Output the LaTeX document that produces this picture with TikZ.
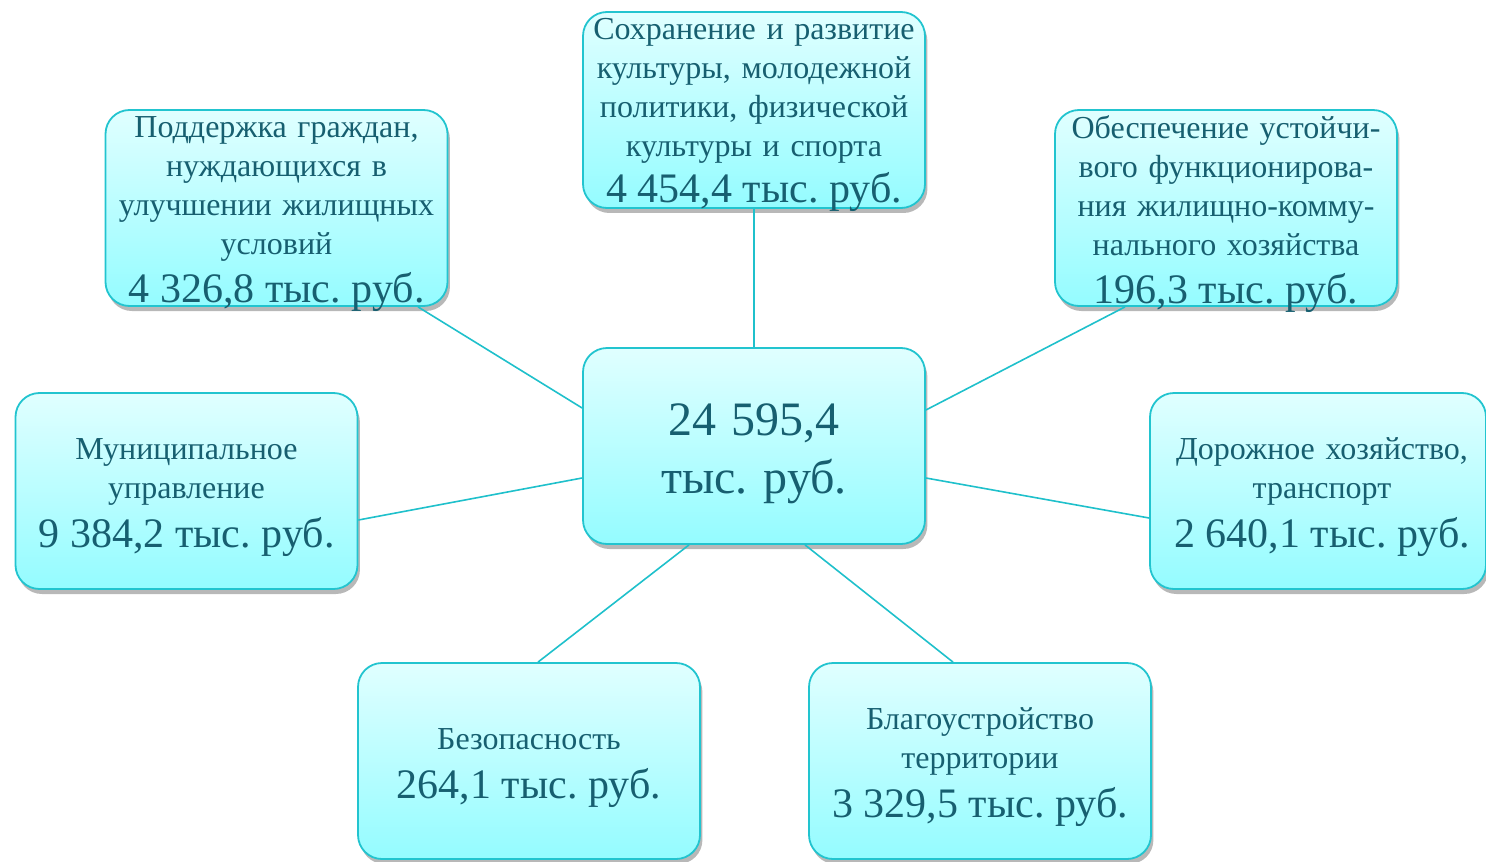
\documentclass[tikz,border=0pt]{standalone}
\usepackage{fontspec}
\setmainfont{Liberation Serif}
\frenchspacing
\usetikzlibrary{shadows,calc}
\definecolor{boxtop}{HTML}{E0FFFF}
\definecolor{boxbot}{HTML}{94FCFF}
\definecolor{boxline}{HTML}{22C4CF}
\definecolor{txt}{HTML}{175F70}
\definecolor{conn}{HTML}{1FC0CB}
\newcommand{\smallf}{\fontsize{16}{19.5}\selectfont}
\newcommand{\bigf}{\fontsize{21}{25}\selectfont}
\newcommand{\upfix}[1]{\rule{0pt}{#1}}
\tikzset{
  boxtext/.style={inner sep=0pt, text width=168pt, align=center, text=txt, font=\smallf},
  box/.style={boxtext, draw=boxline, line width=0.9pt, rounded corners=12pt,
    top color=boxtop, bottom color=boxbot,
    minimum width=171pt, minimum height=98pt,
    drop shadow={shadow xshift=1.2pt, shadow yshift=-2.5pt, fill=black, opacity=0.28}},
  conn/.style={draw=conn, line width=0.8pt}
}
\begin{document}
\begin{tikzpicture}[x=0.5pt,y=-0.5pt]
\useasboundingbox (0,0) rectangle (1486,861);
\node[box, font=\fontsize{24}{29}\selectfont] (c) at (754,446) {\upfix{24pt}24 595,4\\тыс. руб.};
\node[box] (t) at (754,110) {};
\node[boxtext] (tT) at (t.center) {\upfix{15.5pt}Сохранение и развитие\\культуры, молодежной\\политики, физической\\культуры и спорта\\[3.5pt]{\bigf 4 454,4 тыс. руб.}};
\node[box] (tl) at (276.5,208) {};
\node[boxtext] (tlT) at (tl.center) {\upfix{17pt}Поддержка граждан,\\нуждающихся в\\улучшении жилищных\\условий\\[4.5pt]{\bigf 4 326,8 тыс. руб.}};
\node[box] (tr) at (1226,208) {};
\node[boxtext] (trT) at (tr.center) {\upfix{17.5pt}Обеспечение устойчи-\\вого функционирова-\\ния жилищно-комму-\\нального хозяйства\\[4.5pt]{\bigf 196,3 тыс. руб.}};
\node[box] (l) at (186.5,491) {\upfix{17pt}Муниципальное\\управление\\[5pt]{\bigf 9 384,2 тыс. руб.}};
\node[box, minimum width=167pt] (r) at (1318,491) {};
\node[boxtext] (rT) at ([xshift=2pt]r.center) {\upfix{17pt}Дорожное хозяйство,\\транспорт\\[5pt]{\bigf 2 640,1 тыс. руб.}};
\node[box] (bl) at (529,761) {\upfix{18pt}Безопасность\\[5pt]{\bigf 264,1 тыс. руб.}};
\node[box] (br) at (980,761) {\upfix{17.5pt}Благоустройство\\территории\\[5pt]{\bigf 3 329,5 тыс. руб.}};
\draw[conn] (t.south) -- (c.north);
\draw[conn] ([xshift=70.75pt]tl.south) -- ([yshift=19pt]c.west);
\draw[conn] ([xshift=-50.5pt]tr.south) -- ([yshift=18pt]c.east);
\draw[conn] ([yshift=-14.5pt]l.east) -- ([yshift=-16pt]c.west);
\draw[conn] ([yshift=-13.5pt]r.west) -- ([yshift=-16pt]c.east);
\draw[conn] ([xshift=4.5pt]bl.north) -- ([xshift=-32.5pt]c.south);
\draw[conn] ([xshift=-13.5pt]br.north) -- ([xshift=25.5pt]c.south);
\end{tikzpicture}
\end{document}
